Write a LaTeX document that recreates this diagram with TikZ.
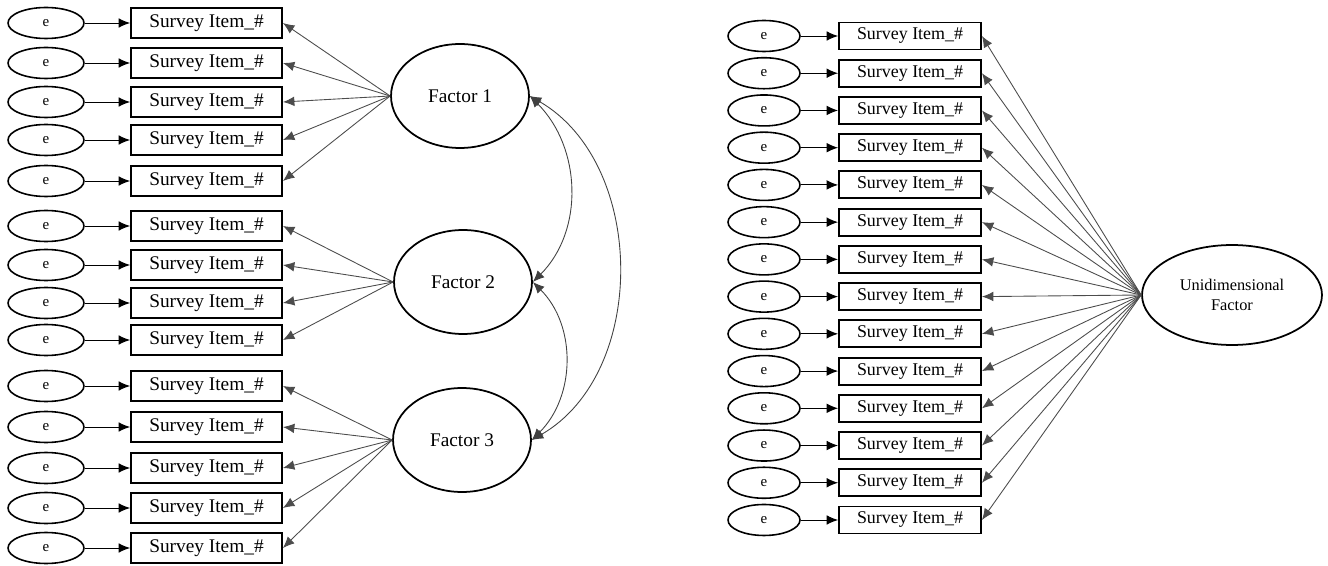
\documentclass[tikz,border=0pt]{standalone}
\usepackage{fontspec}
\setmainfont{Liberation Serif}
\usetikzlibrary{arrows.meta,shapes.geometric}

\begin{document}
\begin{tikzpicture}[x=0.02cm, y=0.02cm, >={Latex[length=6.5pt,width=5.5pt]},
    err/.style={draw, ellipse, line width=0.9pt, inner sep=0pt, minimum width=1.52cm, minimum height=0.62cm, font=\fontsize{8.5}{10}\selectfont},
    item/.style={draw, rectangle, line width=1.1pt, inner sep=0pt, minimum width=3.02cm, minimum height=0.6cm, font=\fontsize{11}{12}\selectfont},
    ritem/.style={item, minimum width=2.84cm, minimum height=0.54cm, font=\fontsize{10.2}{12}\selectfont},
    fac/.style={draw, ellipse, line width=1pt, inner sep=0pt, minimum width=2.76cm, minimum height=2.08cm, font=\fontsize{11}{12}\selectfont},
    res/.style={->, line width=0.55pt},
    load/.style={->, black!70, line width=0.5pt},
    cov/.style={<->, black!75, line width=0.5pt}]
        \useasboundingbox (0,0) rectangle (1328,565);

        \foreach \yy [count=\n] in {23,63,102,140,181,226,265,303,340,386,427,468,508,548} {
            \node[err] (e\n) at (46,565-\yy) {e};
            \node[item] (i\n) at (206.5,565-\yy) {Survey Item\_\#};
            \draw[res] (e\n) -- (i\n);
        }

        \node[fac] (f1) at (460,469) {Factor 1};
        \node[fac] (f2) at (463,283) {Factor 2};
        \node[fac] (f3) at (462,125) {Factor 3};

        \foreach \n in {1,...,5} \draw[load] (f1.west) -- (i\n.east);
        \foreach \n in {6,...,9} \draw[load] (f2.west) -- (i\n.east);
        \foreach \n in {10,...,14} \draw[load] (f3.west) -- (i\n.east);

        \draw[cov] (f1.east) to[out=-45, in=45] (f2.east);
        \draw[cov] (f2.east) to[out=-45, in=45] (f3.east);
        \draw[cov] (f1.east) to[out=-30, in=30] (f3.east);

        \foreach \n in {1,...,14} {
            \node[err, minimum width=1.44cm] (re\n) at (764,{529-37.23*(\n-1)}) {e};
            \node[ritem] (ri\n) at (910,{529-37.23*(\n-1)}) {Survey Item\_\#};
            \draw[res] (re\n) -- (ri\n);
        }

        \node[fac, minimum width=3.6cm, minimum height=2cm, align=center, font=\fontsize{9.3}{11.3}\selectfont] (u) at (1232,270) {Unidimensional\\Factor};

        \foreach \n in {1,...,14} \draw[load] (u.west) -- (ri\n.east);
    \end{tikzpicture}
\end{document}
